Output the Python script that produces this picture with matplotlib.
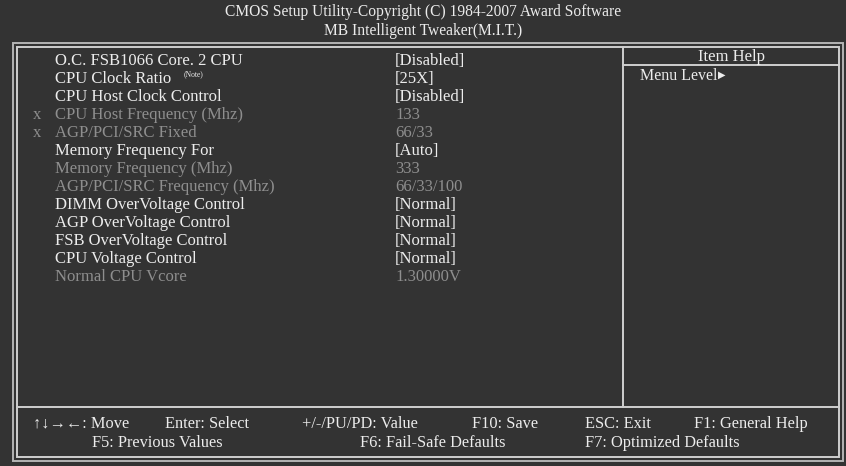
import matplotlib.pyplot as plt
from matplotlib.patches import Rectangle

# screen text
title_lines = ["CMOS Setup Utility-Copyright (C) 1984-2007 Award Software",
               "MB Intelligent Tweaker(M.I.T.)"]
item_labels = ["O.C. FSB1066 Core. 2 CPU", "CPU Clock Ratio", "CPU Host Clock Control",
               "CPU Host Frequency (Mhz)", "AGP/PCI/SRC Fixed", "Memory Frequency For",
               "Memory Frequency (Mhz)", "AGP/PCI/SRC Frequency (Mhz)",
               "DIMM OverVoltage Control", "AGP OverVoltage Control",
               "FSB OverVoltage Control", "CPU Voltage Control", "Normal CPU Vcore"]
item_values = ["[Disabled]", "[25X]", "[Disabled]", "133", "66/33", "[Auto]", "333",
               "66/33/100", "[Normal]", "[Normal]", "[Normal]", "[Normal]", "1.30000V"]
item_enabled = [1, 1, 1, 0, 0, 1, 0, 0, 1, 1, 1, 1, 0]
item_marks = ["", "", "", "x", "x", "", "", "", "", "", "", "", ""]
footer_row1 = ["\u2191\u2193\u2192\u2190: Move", "Enter: Select", "+/-/PU/PD: Value",
               "F10: Save", "ESC: Exit", "F1: General Help"]
footer_row2 = ["F5: Previous Values", "F6: Fail-Safe Defaults", "F7: Optimized Defaults"]

BG = "#333333"
BRIGHT = "#ececec"
DIM = "#8e8e8e"
LINE = "#cfcfcf"
FONT = ["Liberation Serif", "DejaVu Sans"]
FS = 12

fig = plt.figure(figsize=(8.46, 4.66), dpi=100, facecolor=BG)
ax = fig.add_axes([0, 0, 1, 1])
ax.set_xlim(0, 846)
ax.set_ylim(466, 0)
ax.axis("off")
ax.set_facecolor(BG)

# frames
ax.add_patch(Rectangle((13, 42.5), 830, 418.5, fill=False, ec="#b4b4b4", lw=1.4))
ax.add_patch(Rectangle((17, 47), 822, 410, fill=False, ec=LINE, lw=1.4))
ax.plot([17, 839], [407, 407], color=LINE, lw=1.4)
ax.plot([623, 623], [47, 407], color=LINE, lw=1.4)
ax.plot([623, 839], [65, 65], color=LINE, lw=1.4)

# title
ax.text(423, 12, title_lines[0], color=BRIGHT, fontsize=11.2, family=FONT,
        ha="center", va="center")
ax.text(423, 31, title_lines[1], color=BRIGHT, fontsize=11.2, family=FONT,
        ha="center", va="center")

# items
row_y0, row_h = 61, 18
for i, (lab, val) in enumerate(zip(item_labels, item_values)):
    y = row_y0 + i * row_h
    c = BRIGHT if item_enabled[i] else DIM
    ax.text(55, y, lab, color=c, fontsize=FS, family=FONT, va="center")
    ax.text(395, y, val, color=c, fontsize=FS, family=FONT, va="center")
    if item_marks[i]:
        ax.text(33, y, item_marks[i], color=c, fontsize=FS, family=FONT, va="center")
ax.text(184, row_y0 + row_h - 5, "(Note)", color=BRIGHT, fontsize=5.5, family=FONT,
        va="center")

# help panel
ax.text(731, 57, "Item Help", color=BRIGHT, fontsize=FS, family=FONT,
        ha="center", va="center")
ax.text(640, 76, "Menu Level", color=BRIGHT, fontsize=11.5, family=FONT, va="center")
ax.text(718, 75, "\u25b6", color=BRIGHT, fontsize=7, family=["DejaVu Sans"], va="center")

# footer
row1_x = [33, 165, 302, 472, 585, 694]
row2_x = [92, 360, 585]
for x, t in zip(row1_x, footer_row1):
    ax.text(x, 424, t, color=BRIGHT, fontsize=11.8, family=FONT, va="center")
for x, t in zip(row2_x, footer_row2):
    ax.text(x, 443, t, color=BRIGHT, fontsize=11.8, family=FONT, va="center")

fig.savefig("out.png", dpi=100, facecolor=BG)
